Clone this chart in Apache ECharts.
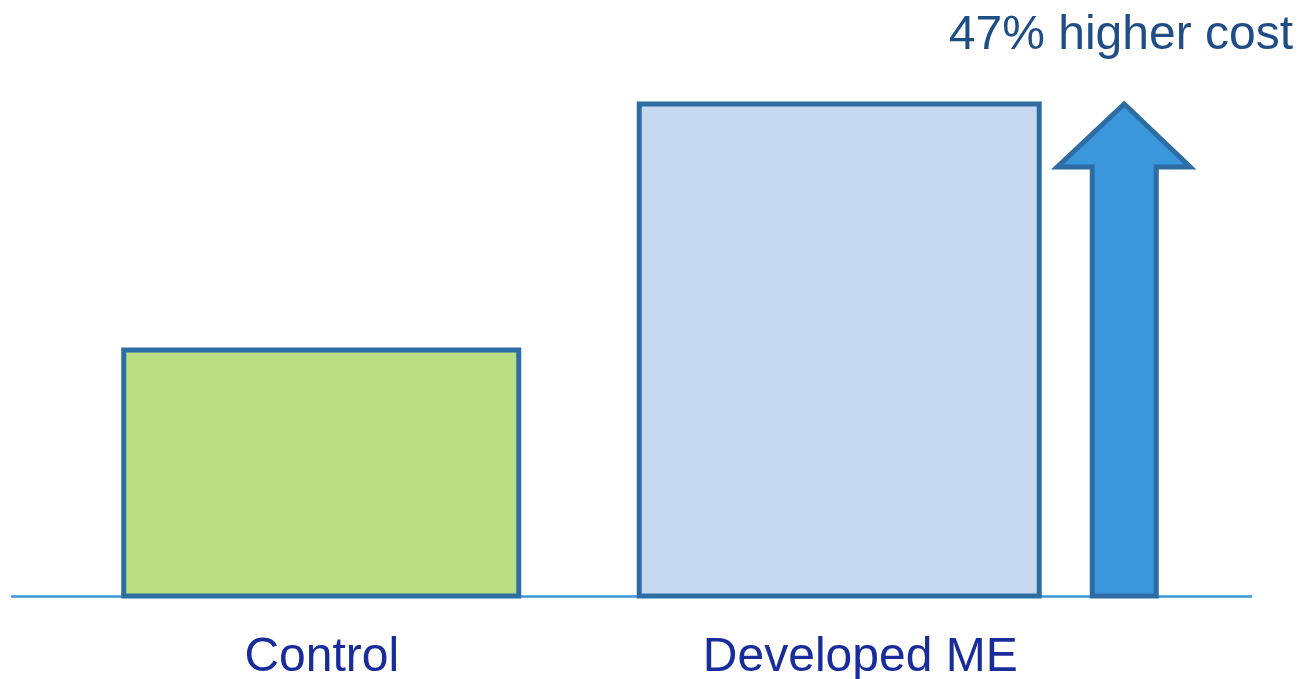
<!DOCTYPE html>
<html>
<head>
<meta charset="utf-8">
<script src="https://cdn.jsdelivr.net/npm/echarts@6/dist/echarts.min.js"></script>
<style>
html,body{margin:0;padding:0;background:#fff;}
#chart{width:1306px;height:679px;}
</style>
</head>
<body>
<div id="chart"></div>
<script>
// ---- data ----
var categories = ['Control', 'Developed ME'];
var costValues = [50, 100];
var increaseLabel = '47% higher cost';
var axisMax = 100;

// ---- rendering ----
var FONT = '"Liberation Sans", Arial, sans-serif';
var fills = ['#BBDE85', '#C6D9F0'];
var borderColor = '#2E6DA4';
// pixel offsets relative to the category band centre
var barSpan = [[-198, 197], [-302, 98]];
var labelShift = [0, -81];

var chart = echarts.init(document.getElementById('chart'));

function barRender(params, api) {
  var i = api.value(0);
  var top = api.coord([i, api.value(1)]);
  var base = api.coord([i, 0]);
  var cx = base[0];
  var s = barSpan[i];
  return {
    type: 'group',
    children: [
      {
        type: 'rect',
        shape: { x: cx + s[0], y: top[1], width: s[1] - s[0], height: base[1] - top[1] },
        style: { fill: fills[i], stroke: borderColor, lineWidth: 5 }
      },
      {
        type: 'text',
        style: {
          text: categories[i], x: cx + labelShift[i], y: base[1] + 62,
          align: 'center', verticalAlign: 'middle',
          fill: '#182C9C', font: '48px ' + FONT
        }
      }
    ]
  };
}

function arrowRender(params, api) {
  var i = api.value(0);
  var top = api.coord([i, api.value(1)]);
  var base = api.coord([i, 0]);
  var cx = base[0];
  var sL = cx + 151, sR = cx + 215, mid = (sL + sR) / 2;
  var headL = cx + 116, headR = cx + 249;
  var headY = top[1] + 63;
  return {
    type: 'polygon',
    shape: { points: [
      [mid, top[1]], [headR, headY], [sR, headY], [sR, base[1]],
      [sL, base[1]], [sL, headY], [headL, headY]
    ] },
    style: { fill: '#3B97DC', stroke: borderColor, lineWidth: 5, lineJoin: 'miter' }
  };
}

chart.setOption({
  animation: false,
  grid: { left: 12, right: 55, top: 104, bottom: 83 },
  xAxis: {
    type: 'category', data: categories,
    axisLine: { show: true, lineStyle: { color: '#3A97DC', width: 2.5 } },
    axisTick: { show: false }, axisLabel: { show: false }, splitLine: { show: false }
  },
  yAxis: { type: 'value', min: 0, max: axisMax, show: false, splitLine: { show: false } },
  graphic: [{
    type: 'text', right: 13, top: 12,
    style: { text: increaseLabel, fill: '#1F4E87', font: '48px ' + FONT }
  }],
  series: [
    {
      type: 'custom', renderItem: barRender, z: 3,
      data: categories.map(function (c, i) { return [i, costValues[i]]; })
    },
    {
      type: 'custom', renderItem: arrowRender, z: 3,
      data: [[1, costValues[1]]]
    }
  ]
});
</script>
</body>
</html>
